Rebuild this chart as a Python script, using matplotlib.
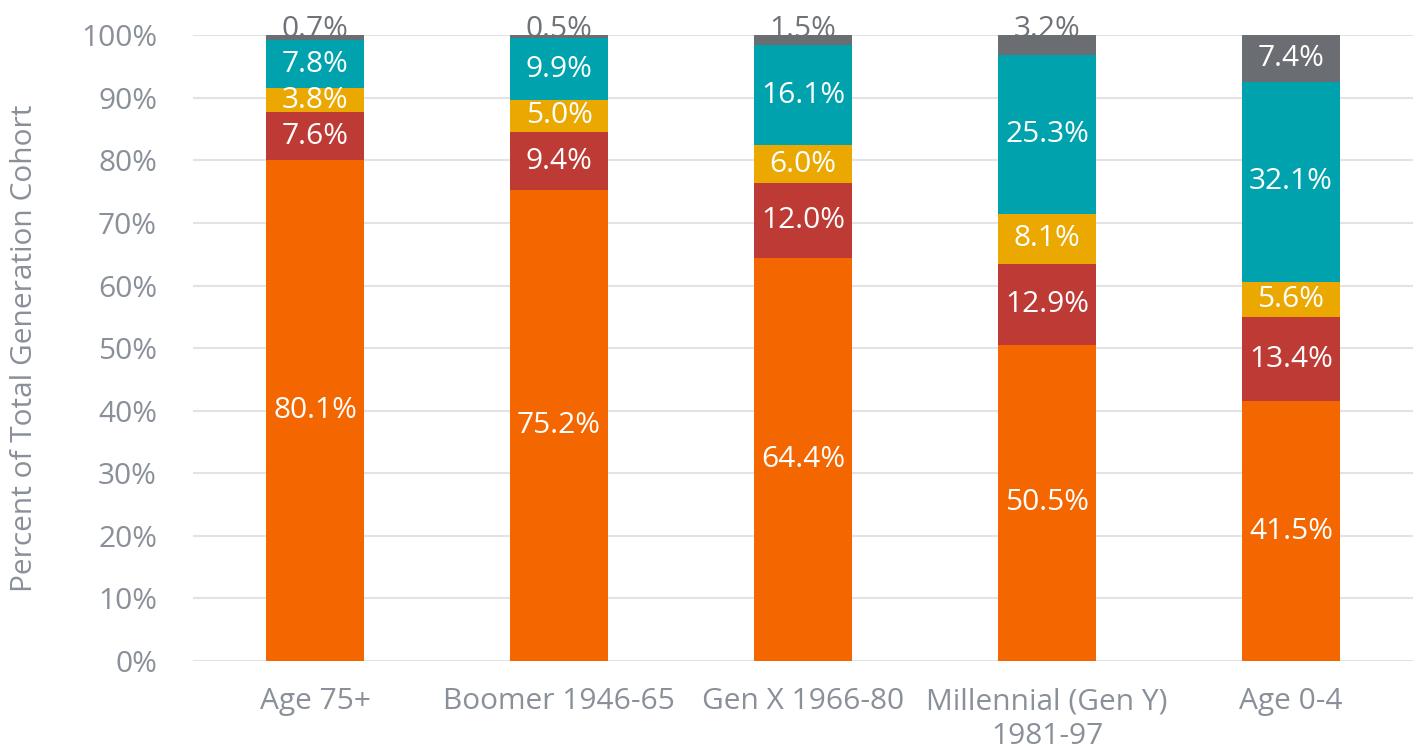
import matplotlib
matplotlib.use("Agg")
import matplotlib.pyplot as plt
import numpy as np

categories = ["Age 75+", "Boomer 1946-65", "Gen X 1966-80", "Millennial (Gen Y)\n1981-97", "Age 0-4"]
s_orange = [80.1, 75.2, 64.4, 50.5, 41.5]
s_red = [7.6, 9.4, 12.0, 12.9, 13.4]
s_yellow = [3.8, 5.0, 6.0, 8.1, 5.6]
s_teal = [7.8, 9.9, 16.1, 25.3, 32.1]
s_gray = [0.7, 0.5, 1.5, 3.2, 7.4]

series = [s_orange, s_red, s_yellow, s_teal, s_gray]
colors = ["#F36600", "#BE3A34", "#EAA800", "#00A3AD", "#6A6D71"]

plt.rcParams['font.family'] = ['Open Sans', 'DejaVu Sans']
tick_color = "#8A9099"
FS = 21.5

fig = plt.figure(figsize=(14.2, 7.51), dpi=100)
ax = fig.add_axes([0.136, 0.120, 0.859, 0.833])

x = np.arange(len(categories))
bottom = np.zeros(len(categories))
for si, (vals, c) in enumerate(zip(series, colors)):
    vals = np.array(vals)
    ax.bar(x, vals, width=0.4, bottom=bottom, color=c, zorder=2)
    for i, v in enumerate(vals):
        if si == len(series) - 1 and v < 5:
            ax.text(x[i], bottom[i] + v - 0.3, f"{v:.1f}%", ha='center', va='baseline',
                    color="#6F7378", fontsize=FS, zorder=1)
        else:
            ax.text(x[i], bottom[i] + v / 2, f"{v:.1f}%", ha='center', va='center',
                    color="white", fontsize=FS, zorder=3)
    bottom += vals

ax.set_xlim(-0.5, 4.5)
ax.set_ylim(0, 100)
ax.set_yticks(np.arange(0, 101, 10))
ax.set_yticklabels([f"{t}%" for t in range(0, 101, 10)])
ax.set_xticks(x)
ax.set_xticklabels(categories)
ax.yaxis.grid(True, color="#E3E3E3", linewidth=1.5, zorder=0)
ax.set_axisbelow(True)
for s in ax.spines.values():
    s.set_visible(False)
ax.tick_params(axis='both', length=0, colors=tick_color, labelsize=FS)
ax.tick_params(axis='y', pad=26)
ax.tick_params(axis='x', pad=19)
for lbl in ax.get_xticklabels():
    lbl.set_linespacing(1.25)
ax.set_ylabel("Percent of Total Generation Cohort", color=tick_color, fontsize=FS, labelpad=30)

fig.savefig("out.png", dpi=100, facecolor="white")
